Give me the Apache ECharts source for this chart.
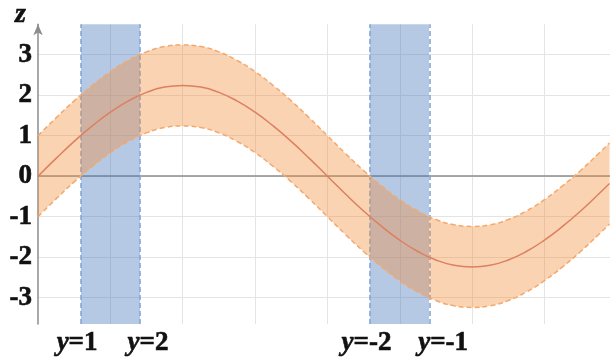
<!DOCTYPE html>
<html>
<head>
<meta charset="utf-8">
<script src="https://cdn.jsdelivr.net/npm/echarts@6/dist/echarts.min.js"></script>
<style>html,body{margin:0;padding:0;background:#fff}#c{width:610px;height:358px}</style>
</head>
<body>
<div id="c"></div>
<script>
// sample positions along the horizontal axis (grid units)
var xs = [0, 0.25, 0.5, 0.75, 1, 1.25, 1.5, 1.75, 2, 2.25, 2.5, 2.75, 3, 3.25, 3.5, 3.75,
          4, 4.25, 4.5, 4.75, 5, 5.25, 5.5, 5.75, 6, 6.25, 6.5, 6.75, 7, 7.25, 7.5, 7.75, 7.9];
// centre curve z values
var center = [0, 0.44, 0.86, 1.24, 1.58, 1.86, 2.07, 2.2, 2.24, 2.2, 2.07, 1.86, 1.58, 1.24, 0.86, 0.44,
              0, -0.44, -0.86, -1.24, -1.58, -1.86, -2.07, -2.2, -2.24, -2.2, -2.07, -1.86, -1.58, -1.24, -0.86, -0.44, -0.18];
// half width of the shaded band
var halfWidth = 1;
// blue strips (x ranges)
var strips = [[0.594, 1.41], [4.586, 5.405]];
// bottom labels
var labelPos = [0.54, 1.52, 4.54, 5.6];
var labelText = ['1', '2', '-2', '-1'];
var yTicks = [-3, -2, -1, 0, 1, 2, 3];

var XMIN = 0, XMAX = 7.906, YMIN = -3.65, YMAX = 3.75;

// data as [value, x] so that stacking acts on the value (z) dimension
var lower = xs.map(function (x, i) { return [center[i] - halfWidth, x]; });
var width = xs.map(function (x) { return [2 * halfWidth, x]; });
var mid = xs.map(function (x, i) { return [x, center[i]]; });

var serif = '"Liberation Serif","DejaVu Serif",serif';
var heavy = {textBorderColor: '#111', textBorderWidth: 0.6};
var chart = echarts.init(document.getElementById('c'));
chart.setOption({
  animation: false,
  grid: {left: 38, right: 0, top: 19, bottom: 34},
  xAxis: [{
    type: 'value', min: XMIN, max: XMAX, splitNumber: 8, minInterval: 1, maxInterval: 1,
    axisLine: {show: true, onZero: true, lineStyle: {color: '#8c8c8c', width: 1.5}},
    axisTick: {show: false}, axisLabel: {show: false},
    splitLine: {show: true, showMinLine: false, showMaxLine: false, lineStyle: {color: '#e4e4e4', width: 1}}
  }, {
    type: 'value', min: XMIN, max: XMAX, position: 'bottom',
    axisLine: {show: false, onZero: false}, axisTick: {show: false}, splitLine: {show: false},
    axisLabel: {
      show: true, customValues: labelPos, margin: 6,
      formatter: function (v) {
        var k = 0, best = 1e9;
        for (var i = 0; i < labelPos.length; i++) { var d = Math.abs(labelPos[i] - v); if (d < best) { best = d; k = i; } }
        return '{i|y}{b|=' + labelText[k] + '}';
      },
      rich: {
        i: Object.assign({fontFamily: serif, fontStyle: 'italic', fontWeight: 'bold', fontSize: 27, color: '#111'}, heavy),
        b: Object.assign({fontFamily: serif, fontWeight: 'bold', fontSize: 27, color: '#111'}, heavy)
      }
    }
  }],
  yAxis: {
    type: 'value', min: YMIN, max: YMAX, splitNumber: 7, minInterval: 1, maxInterval: 1,
    name: 'z', nameLocation: 'end', nameGap: 4,
    nameTextStyle: Object.assign({fontFamily: serif, fontStyle: 'italic', fontWeight: 'bold', fontSize: 28, color: '#111', align: 'right', verticalAlign: 'bottom', padding: [0, 12, -8, 0]}, heavy),
    axisLine: {show: true, onZero: false, symbol: ['none', 'arrow'], symbolSize: [7, 11], lineStyle: {color: '#8c8c8c', width: 1.5}},
    axisTick: {show: false},
    axisLabel: Object.assign({customValues: yTicks, margin: 6, fontFamily: serif, fontWeight: 'bold', fontSize: 27, color: '#111', padding: [4, 0, 0, 0]}, heavy),
    splitLine: {show: true, showMinLine: false, showMaxLine: false, lineStyle: {color: '#e4e4e4', width: 1}}
  },
  series: [{
    type: 'line', name: 'strips', data: [], z: 1,
    markArea: {silent: true, z: 1, itemStyle: {color: 'rgba(70,120,190,0.4)'},
      data: strips.map(function (s) { return [{xAxis: s[0]}, {xAxis: s[1]}]; })},
    markLine: {silent: true, z: 1, symbol: ['none', 'none'], label: {show: false},
      lineStyle: {color: '#7fa2d6', type: [5, 3], width: 1.5},
      data: [].concat.apply([], strips).map(function (v) { return {xAxis: v}; })}
  }, {
    type: 'line', name: 'lower', data: lower, encode: {x: 1, y: 0}, stack: 'band', stackStrategy: 'all', smooth: true, symbol: 'none', z: 2,
    lineStyle: {color: '#f5a86c', type: [5, 3], width: 1.5}
  }, {
    type: 'line', name: 'upper', data: width, encode: {x: 1, y: 0}, stack: 'band', stackStrategy: 'all', smooth: true, symbol: 'none', z: 2,
    lineStyle: {color: '#f5a86c', type: [5, 3], width: 1.5},
    areaStyle: {color: 'rgba(242,142,58,0.39)', opacity: 1}
  }, {
    type: 'line', name: 'center', data: mid, smooth: true, symbol: 'none', z: 3,
    lineStyle: {color: '#de7f60', width: 1.5}
  }]
});
</script>
</body>
</html>
